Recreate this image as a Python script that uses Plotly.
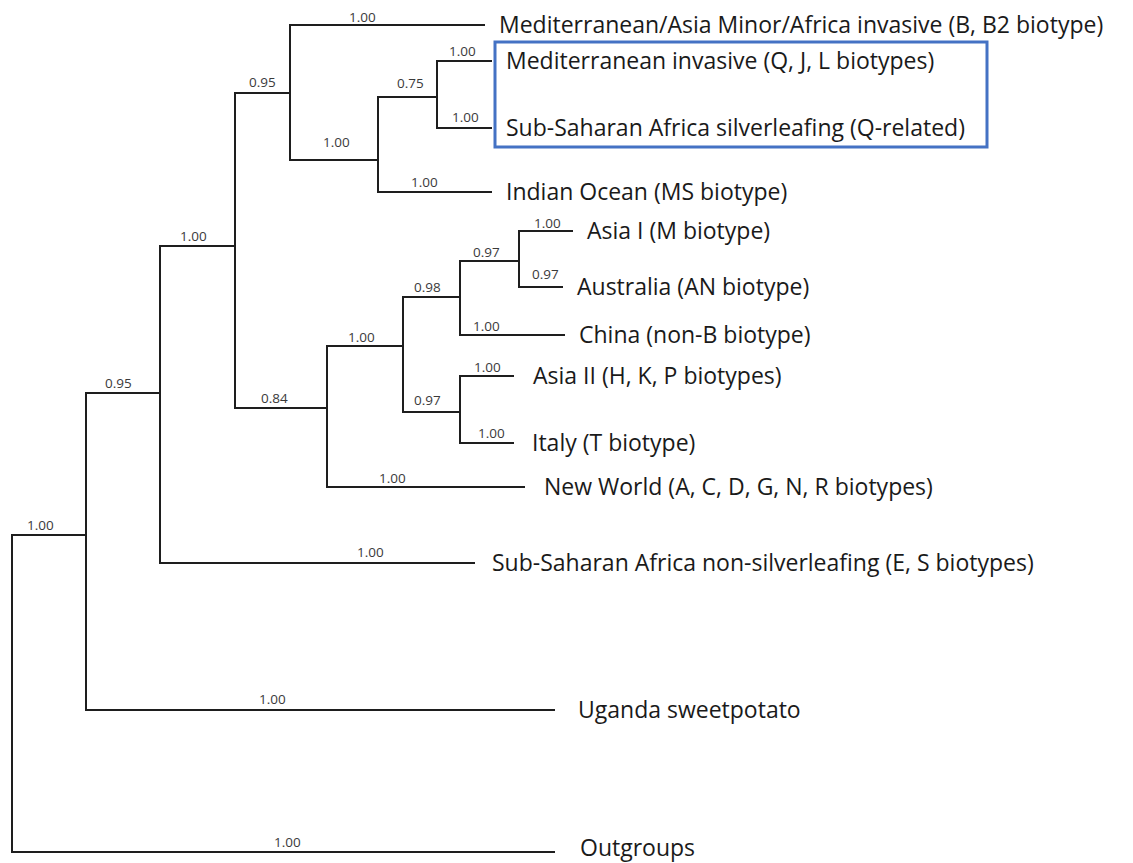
import plotly.graph_objects as go

# ---- Tree data (node, parent, horizontal position, vertical position, support) ----
node_names = [
    "root", "A", "Outgroups", "B", "Uganda sweetpotato", "C",
    "Sub-Saharan Africa non-silverleafing (E, S biotypes)", "D", "G",
    "Mediterranean/Asia Minor/Africa invasive (B, B2 biotype)", "E", "F",
    "Indian Ocean (MS biotype)", "Mediterranean invasive (Q, J, L biotypes)",
    "Sub-Saharan Africa silverleafing (Q-related)", "H",
    "New World (A, C, D, G, N, R biotypes)", "I", "K", "J",
    "China (non-B biotype)", "Asia I (M biotype)", "Australia (AN biotype)",
    "Asia II (H, K, P biotypes)", "Italy (T biotype)",
]
node_parent = [
    None, "root", "root", "A", "A", "B",
    "B", "C", "C",
    "D", "D", "E",
    "E", "F",
    "F", "G",
    "G", "H", "H", "I",
    "I", "J", "J",
    "K", "K",
]
node_depth = [
    12, 86, 555, 160, 555, 235,
    475, 290, 327,
    485, 378, 437,
    492, 492,
    492, 403,
    525, 460, 460, 519,
    565, 573, 563,
    514, 514,
]
node_row = [
    693, 535, 852, 393, 710, 246,
    563, 93, 408,
    25, 160, 97,
    192, 61,
    128, 346,
    487, 297, 412, 261,
    335, 231, 287,
    376, 443,
]
node_support = [
    None, "1.00", "1.00", "0.95", "1.00", "1.00",
    "1.00", "0.95", "0.84",
    "1.00", "1.00", "0.75",
    "1.00", "1.00",
    "1.00", "1.00",
    "1.00", "0.98", "0.97", "0.97",
    "1.00", "1.00", "0.97",
    "1.00", "1.00",
]
highlighted = ["Mediterranean invasive (Q, J, L biotypes)",
               "Sub-Saharan Africa silverleafing (Q-related)"]

# ---- Layout / styling (label placement along each branch) ----
support_label_x = [
    None, 40, 287, 118, 272, 193,
    370, 262, 274,
    362, 336, 410,
    424, 462,
    465, 361,
    392, 427, 427, 486,
    486, 547, 545,
    487, 491,
]
support_label_lift = [
    None, 10, 10, 10, 11, 10,
    11, 11, 10,
    8, 18, 14,
    10, 10,
    11, 9,
    9, 10, 12, 9,
    9, 8, 13,
    9, 10,
]
leaf_gap = {
    "Uganda sweetpotato": 21, "Outgroups": 23,
    "New World (A, C, D, G, N, R biotypes)": 17,
    "Asia II (H, K, P biotypes)": 17, "Italy (T biotype)": 16,
    "Sub-Saharan Africa non-silverleafing (E, S biotypes)": 15,
}
leaf_lift = {"Outgroups": 5}
DEFAULT_GAP = 12
DEFAULT_LIFT = 1
LINE_COLOR = "#1e1e1e"
TEXT_COLOR = "#1a1a1a"
LEAF_FONT = dict(family="'Open Sans', 'Noto Sans', sans-serif", size=23, color=TEXT_COLOR)
SUP_FONT = dict(family="'Open Sans', 'Noto Sans', sans-serif", size=13.5, color="#3a3a3a")
PAGE_OFFSET = 8  # default body margin of the written page

idx = {n: i for i, n in enumerate(node_names)}
children = {n: [] for n in node_names}
for n, p in zip(node_names, node_parent):
    if p is not None:
        children[p].append(n)

# Elbow edges
xs, ys = [], []
for i, n in enumerate(node_names):
    p = node_parent[i]
    if p is None:
        continue
    j = idx[p]
    xs += [node_depth[j], node_depth[j], node_depth[i], None]
    ys += [node_row[j], node_row[i], node_row[i], None]

fig = go.Figure()
fig.add_trace(go.Scatter(x=xs, y=ys, mode="lines",
                         line=dict(color=LINE_COLOR, width=2),
                         hoverinfo="skip", showlegend=False))

annotations = []
for i, n in enumerate(node_names):
    if node_support[i] is not None:
        annotations.append(dict(x=support_label_x[i], y=node_row[i], text=node_support[i],
                                showarrow=False, xanchor="center", yanchor="middle",
                                yshift=support_label_lift[i], font=SUP_FONT))
    if not children[n]:
        annotations.append(dict(x=node_depth[i], y=node_row[i], text=n, showarrow=False,
                                xanchor="left", yanchor="middle",
                                xshift=leaf_gap.get(n, DEFAULT_GAP),
                                yshift=leaf_lift.get(n, DEFAULT_LIFT),
                                font=LEAF_FONT))

# Highlight box around the Q-related clade
hl_rows = [node_row[idx[h]] for h in highlighted]
hl_x = max(node_depth[idx[h]] for h in highlighted)
fig.add_shape(type="rect", x0=hl_x + 3, x1=987, y0=min(hl_rows) - 19, y1=max(hl_rows) + 19,
              line=dict(color="#4472C4", width=3), fillcolor="rgba(0,0,0,0)")

W, H = 1133, 863
fig.update_layout(
    width=W, height=H,
    margin=dict(l=0, r=0, t=0, b=0),
    paper_bgcolor="white", plot_bgcolor="white",
    xaxis=dict(range=[PAGE_OFFSET, W + PAGE_OFFSET], visible=False, fixedrange=True),
    yaxis=dict(range=[H + PAGE_OFFSET, PAGE_OFFSET], visible=False, fixedrange=True),
    annotations=annotations,
    showlegend=False,
)
fig.write_html("out.html")
